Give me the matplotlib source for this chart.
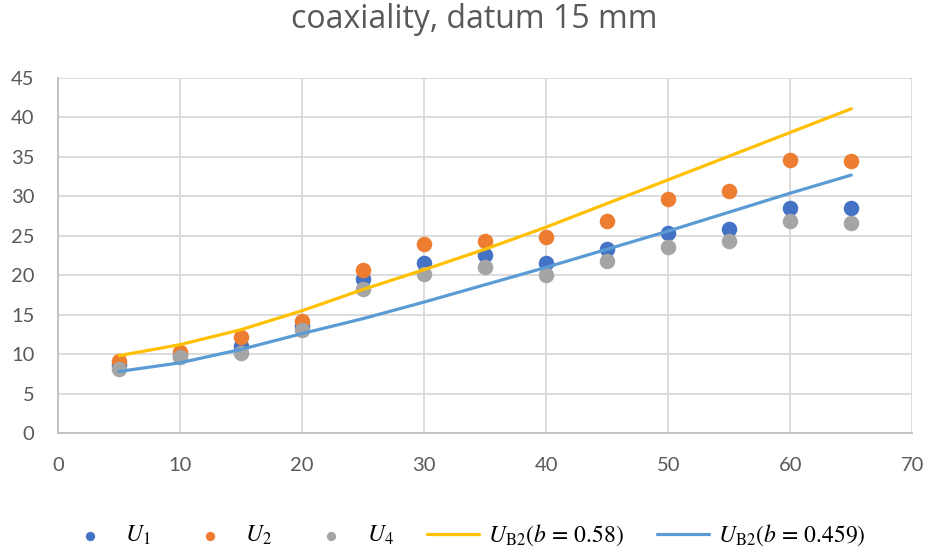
import matplotlib.pyplot as plt
import numpy as np

plt.rcParams['font.family'] = ['Open Sans', 'DejaVu Sans']
plt.rcParams['mathtext.fontset'] = 'stix'

x = [5, 10, 15, 20, 25, 30, 35, 40, 45, 50, 55, 60, 65]
u1 = [8.6, 9.9, 11.0, 13.6, 19.5, 21.5, 22.6, 21.5, 23.3, 25.4, 25.8, 28.5, 28.5]
u2 = [9.1, 10.3, 12.2, 14.2, 20.7, 23.9, 24.3, 24.8, 26.9, 29.6, 30.7, 34.6, 34.5]
u4 = [8.1, 9.6, 10.1, 13.0, 18.2, 20.1, 21.0, 20.0, 21.8, 23.6, 24.3, 26.9, 26.6]
ub2_058 = [9.8, 11.2, 13.1, 15.5, 18.2, 20.7, 23.3, 26.1, 29.1, 32.1, 35.1, 38.1, 41.1]
ub2_0459 = [7.8, 8.9, 10.6, 12.6, 14.5, 16.6, 18.8, 21.0, 23.3, 25.6, 28.0, 30.4, 32.7]

fig = plt.figure(figsize=(9.3, 5.52), dpi=100)
ax = fig.add_axes([0.0624, 0.2156, 0.9186, 0.6431])

ms = 125
ax.scatter(x, u1, s=ms, color='#4472C4', label='$U_1$', zorder=3, linewidths=0)
ax.scatter(x, u2, s=ms, color='#ED7D31', label='$U_2$', zorder=3, linewidths=0)
ax.scatter(x, u4, s=ms, color='#A5A5A5', label='$U_4$', zorder=3, linewidths=0)
ax.plot(x, ub2_058, color='#FFC000', lw=2.3, label=r'$U_{\mathrm{B2}}(b\,=\,0.58)$', zorder=4,
        solid_capstyle='round')
ax.plot(x, ub2_0459, color='#5B9BD5', lw=2.3, label=r'$U_{\mathrm{B2}}(b\,=\,0.459)$', zorder=4,
        solid_capstyle='round')

ax.set_xlim(0, 70)
ax.set_ylim(0, 45)
ax.set_xticks(np.arange(0, 71, 10))
ax.set_yticks(np.arange(0, 46, 5))
ax.grid(True, color='#D9D9D9', lw=1.3, zorder=0)
ax.set_axisbelow(True)
for s in ['top', 'right']:
    ax.spines[s].set_visible(False)
for s in ['left', 'bottom']:
    ax.spines[s].set_color('#BFBFBF')
    ax.spines[s].set_linewidth(1.3)
ax.tick_params(length=0, labelsize=14.5, labelcolor='#595959')
ax.tick_params(axis='x', pad=17)
ax.tick_params(axis='y', pad=17)
for lbl in ax.get_xticklabels() + ax.get_yticklabels():
    lbl.set_fontfamily(['Lato', 'DejaVu Sans'])

fig.suptitle('coaxiality, datum 15 mm', x=0.51, y=0.995, fontsize=23, color='#595959')

fig.legend(loc='lower center', bbox_to_anchor=(0.5, -0.032), ncol=5, frameon=False,
           fontsize=17, markerscale=0.6, handlelength=2.2, columnspacing=1.4,
           handletextpad=0.4)

fig.savefig('out.png', dpi=100)
